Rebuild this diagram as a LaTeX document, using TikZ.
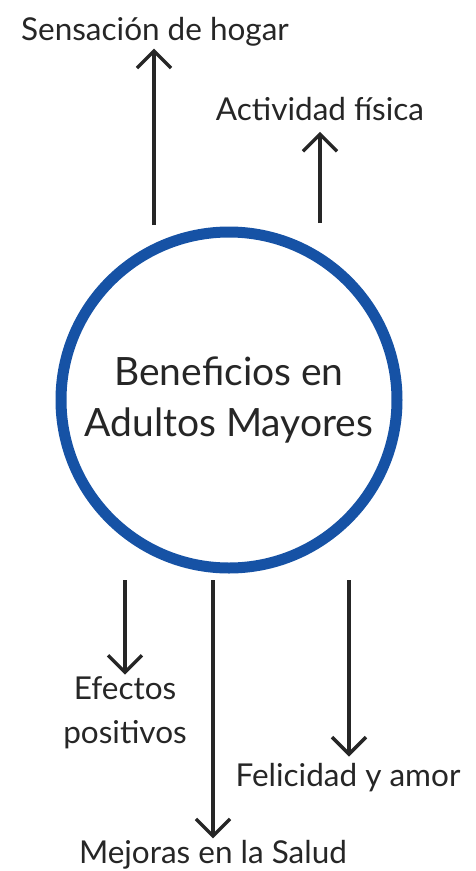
\documentclass[tikz,border=0pt]{standalone}
\usepackage{fontspec}
\setmainfont{Lato}
\usetikzlibrary{positioning,arrows.meta}
\definecolor{brushblue}{RGB}{22,82,165}

\begin{document}
\begin{tikzpicture}
  [
    x=1pt, y=-1pt,
    label text/.style={draw=none, align=center, font=\fontsize{31.5}{36}\selectfont, text=black!85, inner sep=2pt},
    benefit arrow/.style={draw=black!85, line width=3.4pt, -{Straight Barb[length=17pt,width=34pt]}},
  ]
  \useasboundingbox (0,0) rectangle (476,871);

  % centre
  \node[circle, draw=brushblue, line width=11pt, minimum size=336pt, align=center,
        font=\fontsize{39}{51}\selectfont, text=black!85] (ben) at (229,400)
        {Beneficios en\\Adultos Mayores};

  % labels
  \node[label text] (hogar)     at (155,32)  {Sensación de hogar};
  \node[label text] (actividad) at (320,109) {Actividad física};
  \node[label text, font=\fontsize{31.5}{44}\selectfont] (efectos) at (125,713) {Efectos\\positivos};
  \node[label text] (felicidad) at (348,778) {Felicidad y amor};
  \node[label text] (salud)     at (213,855) {Mejoras en la Salud};

  % start points
  \coordinate (a1) at (154,225);
  \coordinate (a2) at (320,223);
  \coordinate (b1) at (125,580);
  \coordinate (b2) at (213,580);
  \coordinate (b3) at (349,580);

  \draw[benefit arrow] (a1) -- (a1 |- hogar.south);
  \draw[benefit arrow, shorten >=9pt] (a2) -- (a2 |- actividad.south);
  \draw[benefit arrow] (b1) -- (b1 |- efectos.north);
  \draw[benefit arrow] (b2) -- (b2 |- salud.north);
  \draw[benefit arrow, shorten >=5pt] (b3) -- (b3 |- felicidad.north);

\end{tikzpicture}
\end{document}
